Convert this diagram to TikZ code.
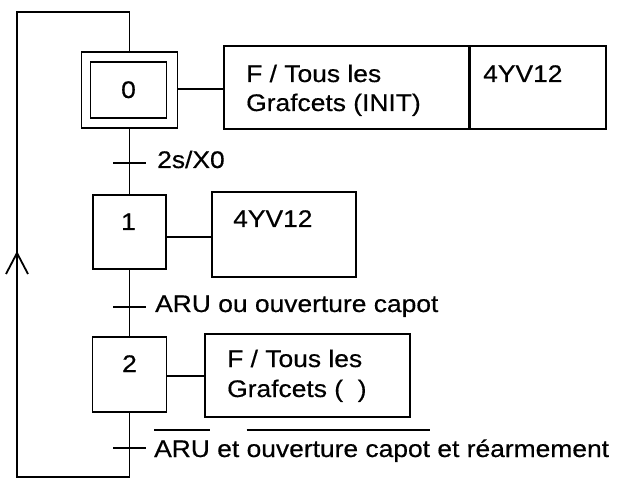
\documentclass[tikz,border=0pt]{standalone}
\usepackage{fontspec}
\setmainfont{Liberation Sans}[FakeStretch=1.1,FakeBold=0.5]
\newcommand\ovl[1]{\setbox0=\hbox{#1}\rlap{\rule[26.5pt]{\wd0}{1.2pt}}\box0\relax}
\begin{document}
\begin{tikzpicture}[x=1pt,y=-1pt,
  every node/.style={font=\fontsize{24}{29}\selectfont},
  ln/.style={line width=1.8pt},
  box/.style={draw,line width=1.8pt,rectangle,inner sep=0pt},
  txt/.style={anchor=base west,inner sep=0pt},
  num/.style={anchor=base,inner sep=0pt},
  tick/.style={line width=1.5pt}]
\useasboundingbox (0,0) rectangle (622,484);
% steps
\node[box,minimum width=96pt,minimum height=76pt] (s0) at (129.5,90) {};
\node[box,minimum width=76pt,minimum height=56pt] (s0i) at (128.5,90) {};
\node[box,minimum width=73pt,minimum height=74pt] (s1) at (129.5,232) {};
\node[box,minimum width=74pt,minimum height=75pt] (s2) at (129.5,374.5) {};
\node[num] (n0) at (128.5,98) {0};
\node[num] (n1) at (128.5,230) {1};
\node[num] (n2) at (129.5,372) {2};
% actions
\node[box,minimum width=245pt,minimum height=83pt] (a0) at (346.5,87.5) {};
\node[box,minimum width=136pt,minimum height=83pt] (a0b) at (538,87.5) {};
\node[box,minimum width=144pt,minimum height=85pt] (a1) at (284,234.5) {};
\node[box,minimum width=205pt,minimum height=83pt] (a2) at (307.5,375.5) {};
\node[txt] (t0a) at (246,82) {F / Tous les};
\node[txt] (t0b) at (246,111) {Grafcets (INIT)};
\node[txt] (t0c) at (483,82) {4YV12};
\node[txt] (t1) at (233,227) {4YV12};
\node[txt] (t2a) at (227,367) {F / Tous les};
\node[txt] (t2b) at (227,397) {Grafcets (~~)};
% links step-action
\draw[ln] (s0.east |- 0,89) -- (a0.west |- 0,89);
\draw[ln] (s1.east |- 0,237) -- (a1.west |- 0,237);
\draw[ln] (s2.east |- 0,376) -- (a2.west |- 0,376);
% sequence
\draw[ln] (s0.south) -- (s1.north);
\draw[ln] (s1.south) -- (s2.north);
\coordinate (bot) at (129.5,477);
\coordinate (topl) at (17,12);
\coordinate (arr) at (17,253);
\draw[ln] (s2.south) -- (bot) -| (topl) -| (s0.north);
\draw[ln] (6,274) -- (arr) -- (28,274);
% transitions
\coordinate (tr0) at (129.5,163);
\coordinate (tr1) at (129.5,307);
\coordinate (tr2) at (129.5,448);
\draw[tick] ([xshift=-16.5pt]tr0) -- ([xshift=16.5pt]tr0);
\draw[tick] ([xshift=-16.5pt]tr1) -- ([xshift=16.5pt]tr1);
\draw[tick] ([xshift=-16.5pt]tr2) -- ([xshift=16.5pt]tr2);
\node[txt] (c0) at (157,168) {2s/X0};
\node[txt] (c1) at (155,312) {ARU ou ouverture capot};
\node[txt] (c2) at (154,457) {\ovl{ARU} et \ovl{ouverture capot} et réarmement};
\end{tikzpicture}
\end{document}
